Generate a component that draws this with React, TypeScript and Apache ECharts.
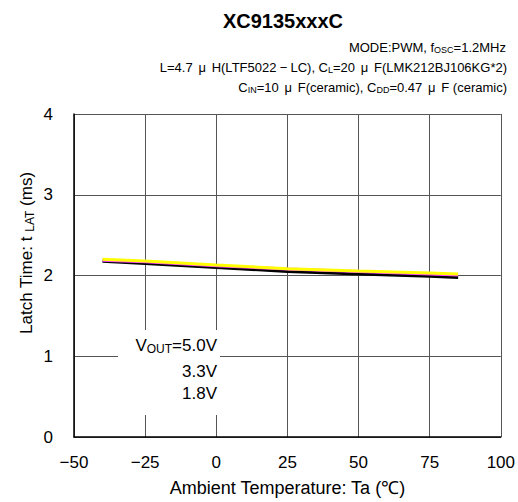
import React, { useEffect, useRef } from "react";
import * as echarts from "echarts";

const temps = [-40, -25, 0, 25, 50, 75, 85];
const v50 = [2.175, 2.15, 2.1, 2.05, 2.02, 1.99, 1.975];
const v33 = [2.19, 2.17, 2.12, 2.08, 2.05, 2.02, 2.005];
const v18 = [2.2, 2.18, 2.13, 2.085, 2.055, 2.03, 2.02];
const seriesNames = ["5.0V", "3.3V", "1.8V"];
const colors = ["#000000", "#ff44ff", "#ffff00"];

const FONT = "'Liberation Sans', Arial, sans-serif";

const subRich = (size: number, sub: number) => ({
  n: { fontSize: size, fontFamily: FONT, fill: "#000", color: "#000" },
  s: { fontSize: sub, fontFamily: FONT, fill: "#000", color: "#000", padding: [Math.round(size * 0.45), 0, 0, 0] },
  m: { fontSize: size, fontFamily: FONT, fill: "#000", color: "#000", width: 19, align: "center" },
  d: { fontSize: size, fontFamily: FONT, fill: "#000", color: "#000", width: 14, align: "center" },
});

export default function App() {
  const ref = useRef<HTMLDivElement>(null);
  useEffect(() => {
    const chart = echarts.init(ref.current!, null, { renderer: "svg" });
    const mk = (vals: number[]) => temps.map((t, i) => [t, vals[i]]);
    const datasets = [v50, v33, v18];
    chart.setOption({
      animation: false,
      backgroundColor: "#ffffff",
      textStyle: { fontFamily: FONT },
      grid: { left: 74, right: 17, top: 114, bottom: 65 },
      xAxis: {
        type: "value",
        min: -50,
        max: 100,
        interval: 25,
        axisLine: { show: true, onZero: false, lineStyle: { color: "#000", width: 1.5 } },
        axisTick: { show: false },
        axisLabel: {
          color: "#000",
          fontSize: 17,
          margin: 17,
          fontFamily: FONT,
          formatter: (v: number) => (v < 0 ? "\u2212" + Math.abs(v) : String(v)),
        },
        splitLine: { show: true, lineStyle: { color: "#555", width: 1 } },
        name: "Ambient Temperature: Ta (\u2103)",
        nameLocation: "middle",
        nameGap: 42,
        nameTextStyle: { color: "#000", fontSize: 18, fontFamily: FONT },
      },
      yAxis: {
        type: "value",
        min: 0,
        max: 4,
        interval: 1,
        axisLine: { show: true, onZero: false, lineStyle: { color: "#000", width: 1.5 } },
        axisTick: { show: false },
        axisLabel: { color: "#000", fontSize: 17, margin: 21, fontFamily: FONT },
        splitLine: { show: true, lineStyle: { color: "#555", width: 1 } },
      },
      series: datasets.map((d, i) => ({
        name: seriesNames[i],
        type: "line",
        data: mk(d),
        showSymbol: false,
        z: 5 + i,
        lineStyle: { color: colors[i], width: 3 },
      })),
      graphic: [
        {
          type: "text",
          x: 26,
          y: 253,
          rotation: Math.PI / 2,
          style: {
            text: "{n|Latch Time: t }{s|LAT}{n| (ms)}",
            align: "center",
            verticalAlign: "middle",
            rich: subRich(17, 12),
          },
        },
        {
          type: "rect",
          shape: { x: 118, y: 330, width: 102, height: 85 },
          style: { fill: "#ffffff" },
          z: 100,
        },
        {
          type: "text",
          x: 217,
          y: 345,
          z: 101,
          style: {
            text: "{n|V}{s|OUT}{n|=5.0V}",
            align: "right",
            verticalAlign: "middle",
            rich: subRich(17, 12),
          },
        },
        {
          type: "text",
          x: 217,
          y: 371,
          z: 101,
          style: { text: "3.3V", align: "right", verticalAlign: "middle", fontSize: 17, fontFamily: FONT, fill: "#000" },
        },
        {
          type: "text",
          x: 217,
          y: 393,
          z: 101,
          style: { text: "1.8V", align: "right", verticalAlign: "middle", fontSize: 17, fontFamily: FONT, fill: "#000" },
        },
        {
          type: "text",
          x: 283,
          y: 21,
          style: {
            text: "XC9135xxxC",
            align: "center",
            verticalAlign: "middle",
            fontSize: 20,
            fontWeight: "bold",
            fontFamily: FONT,
            fill: "#000",
          },
        },
        {
          type: "text",
          x: 506,
          y: 47,
          style: {
            text: "{n|MODE:PWM, f}{s|OSC}{n|=1.2MHz}",
            align: "right",
            verticalAlign: "middle",
            rich: subRich(13, 9),
          },
        },
        {
          type: "text",
          x: 507,
          y: 67,
          style: {
            text: "{n|L=4.7}{m|\u03bc}{n|H(LTF5022}{d|\u2212}{n|LC), C}{s|L}{n|=20}{m|\u03bc}{n|F(LMK212BJ106KG*2)}",
            align: "right",
            verticalAlign: "middle",
            rich: subRich(13, 9),
          },
        },
        {
          type: "text",
          x: 507,
          y: 87,
          style: {
            text: "{n|C}{s|IN}{n|=10}{m|\u03bc}{n|F(ceramic), C}{s|DD}{n|=0.47}{m|\u03bc}{n|F (ceramic)}",
            align: "right",
            verticalAlign: "middle",
            rich: subRich(13, 9),
          },
        },
      ],
    });
    return () => chart.dispose();
  }, []);
  return <div ref={ref} style={{ width: 518, height: 502, position: "absolute", left: 0, top: 0 }} />;
}
